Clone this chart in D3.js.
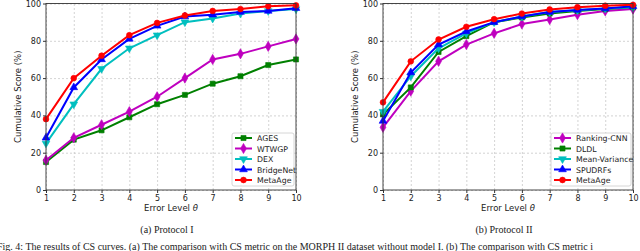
<!DOCTYPE html>
<html>
<head>
<meta charset="utf-8">
<script src="https://d3js.org/d3.v7.min.js"></script>
<style>
  body { margin: 0; background: #fff; }
  svg text { font-family: "DejaVu Sans", sans-serif; fill: #222; }
  .grid line { stroke: #c8c8c8; stroke-dasharray: 2,2; stroke-width: 0.8; }
  .grid path { display: none; }
  .axis path { display: none; }
  .axis line { stroke: #333; }
  .caption { font-family: "Liberation Serif", "Times New Roman", serif !important; }
</style>
</head>
<body>
<div id="chart"></div>
<script>
const levels = [1, 2, 3, 4, 5, 6, 7, 8, 9, 10];
const yTicks = [0, 20, 40, 60, 80, 100];

// Protocol I
const ages      = [15, 27, 32, 39, 46, 51, 57, 61, 67, 70];
const wtwgp     = [16, 28, 35, 42, 50, 60, 70, 73, 77, 81];
const dex       = [25, 46, 65, 76, 83, 90, 92, 94.6, 96, 97];
const bridgeNet = [28, 55, 70, 81, 88, 93, 94, 95.4, 96, 97.5];
const metaAge1  = [38, 60, 72, 83, 89.6, 93.6, 96, 97, 98.5, 99];

// Protocol II
const rankingCnn   = [33.6, 53, 69, 78, 84, 89, 91.4, 94, 96, 97];
const dldl         = [40.5, 55, 74, 82.5, 90, 92.5, 94.6, 96, 97, 98];
const meanVariance = [42, 61, 76, 84, 90, 93, 95.4, 96.4, 97.3, 98];
const spudrfs      = [37, 63, 78, 85, 90, 93, 95.4, 96.5, 97.3, 98.5];
const metaAge2     = [47, 69, 80.7, 87.5, 91.6, 94.6, 96.8, 98, 98.8, 99.3];

const panels = [
  { x0: 46, x1: 296, legendW: 62, caption: "(a) Protocol I", series: [
    { name: "AGES", values: ages, color: "#008000", marker: "square" },
    { name: "WTWGP", values: wtwgp, color: "#bf00bf", marker: "diamond" },
    { name: "DEX", values: dex, color: "#00bfbf", marker: "down" },
    { name: "BridgeNet", values: bridgeNet, color: "#0000ff", marker: "up" },
    { name: "MetaAge", values: metaAge1, color: "#ff0000", marker: "circle" }
  ]},
  { x0: 383, x1: 633, legendW: 80, caption: "(b) Protocol II", series: [
    { name: "Ranking-CNN", values: rankingCnn, color: "#bf00bf", marker: "diamond" },
    { name: "DLDL", values: dldl, color: "#008000", marker: "square" },
    { name: "Mean-Variance", values: meanVariance, color: "#00bfbf", marker: "down" },
    { name: "SPUDRFs", values: spudrfs, color: "#0000ff", marker: "up" },
    { name: "MetaAge", values: metaAge2, color: "#ff0000", marker: "circle" }
  ]}
];

const W = 640, H = 251;
const plotTop = 3.5, plotBottom = 190;
const svg = d3.select("#chart").append("svg").attr("width", W).attr("height", H);

const symbols = {
  square: d3.symbolSquare, diamond: d3.symbolDiamond, circle: d3.symbolCircle,
  up: d3.symbolTriangle, down: d3.symbolTriangle
};
function marker(sel, kind, color) {
  sel.attr("d", d3.symbol().type(symbols[kind]).size(kind === "diamond" ? 30 : 26))
    .attr("fill", color)
    .attr("stroke", color)
    .attr("stroke-width", 0.6);
}

panels.forEach(p => {
  const x = d3.scaleLinear().domain([1, 10]).range([p.x0, p.x1]);
  const y = d3.scaleLinear().domain([0, 100]).range([plotBottom, plotTop]);
  const g = svg.append("g");

  g.append("g").attr("class", "grid")
    .attr("transform", `translate(0,${plotBottom})`)
    .call(d3.axisBottom(x).tickValues(levels).tickSize(-(plotBottom - plotTop)).tickFormat(""));
  g.append("g").attr("class", "grid")
    .attr("transform", `translate(${p.x0},0)`)
    .call(d3.axisLeft(y).tickValues(yTicks).tickSize(-(p.x1 - p.x0)).tickFormat(""));

  const line = d3.line().x((d, i) => x(levels[i])).y(d => y(d));
  p.series.forEach(s => {
    g.append("path").datum(s.values)
      .attr("d", line).attr("fill", "none")
      .attr("stroke", s.color).attr("stroke-width", 2);
    g.selectAll(null).data(s.values).enter().append("path")
      .attr("transform", (d, i) => `translate(${x(levels[i])},${y(d)})` + (s.marker === "down" ? " rotate(180)" : ""))
      .call(marker, s.marker, s.color);
  });

  g.append("rect").attr("x", p.x0).attr("y", plotTop)
    .attr("width", p.x1 - p.x0).attr("height", plotBottom - plotTop)
    .attr("fill", "none").attr("stroke", "#333").attr("stroke-width", 0.9);

  const xa = g.append("g").attr("class", "axis")
    .attr("transform", `translate(0,${plotBottom})`)
    .call(d3.axisBottom(x).tickValues(levels).tickSize(3).tickPadding(2).tickFormat(d3.format("d")));
  xa.selectAll("text").style("font-size", "8px").attr("fill", "#222");
  const ya = g.append("g").attr("class", "axis")
    .attr("transform", `translate(${p.x0},0)`)
    .call(d3.axisLeft(y).tickValues(yTicks).tickSize(3).tickPadding(2));
  ya.selectAll("text").style("font-size", "8px").attr("fill", "#222");

  g.append("text").attr("x", (p.x0 + p.x1) / 2).attr("y", 211)
    .attr("text-anchor", "middle").style("font-size", "8.5px")
    .html("Error Level <tspan font-style='italic'>θ</tspan>");
  g.append("text")
    .attr("transform", `translate(${p.x0 - 25},${(plotTop + plotBottom) / 2}) rotate(-90)`)
    .attr("text-anchor", "middle").style("font-size", "8.5px")
    .text("Cumulative Score (%)");

  g.append("text").attr("class", "caption")
    .attr("x", (p.x0 + p.x1) / 2 - 4).attr("y", 233)
    .attr("text-anchor", "middle").style("font-size", "10px")
    .text(p.caption);

  // legend
  const lx = p.x1 - 2 - p.legendW, ly = 133;
  const lg = g.append("g");
  lg.append("rect").attr("x", lx).attr("y", ly)
    .attr("width", p.legendW).attr("height", 53).attr("rx", 2)
    .attr("fill", "#fff").attr("fill-opacity", 0.85)
    .attr("stroke", "#ccc").attr("stroke-width", 0.8);
  p.series.forEach((s, i) => {
    const yy = ly + 5 + i * 10.5;
    lg.append("line").attr("x1", lx + 3).attr("x2", lx + 20)
      .attr("y1", yy).attr("y2", yy).attr("stroke", s.color).attr("stroke-width", 2);
    lg.append("path")
      .attr("transform", `translate(${lx + 11.5},${yy})` + (s.marker === "down" ? " rotate(180)" : ""))
      .call(marker, s.marker, s.color);
    lg.append("text").attr("x", lx + 25).attr("y", yy + 3)
      .style("font-size", "7.8px").text(s.name);
  });
});

svg.append("text").attr("class", "caption")
  .attr("x", -3).attr("y", 250).style("font-size", "10px")
  .text("Fig. 4: The results of CS curves. (a) The comparison with CS metric on the MORPH II dataset without model I. (b) The comparison with CS metric i");
</script>
</body>
</html>
